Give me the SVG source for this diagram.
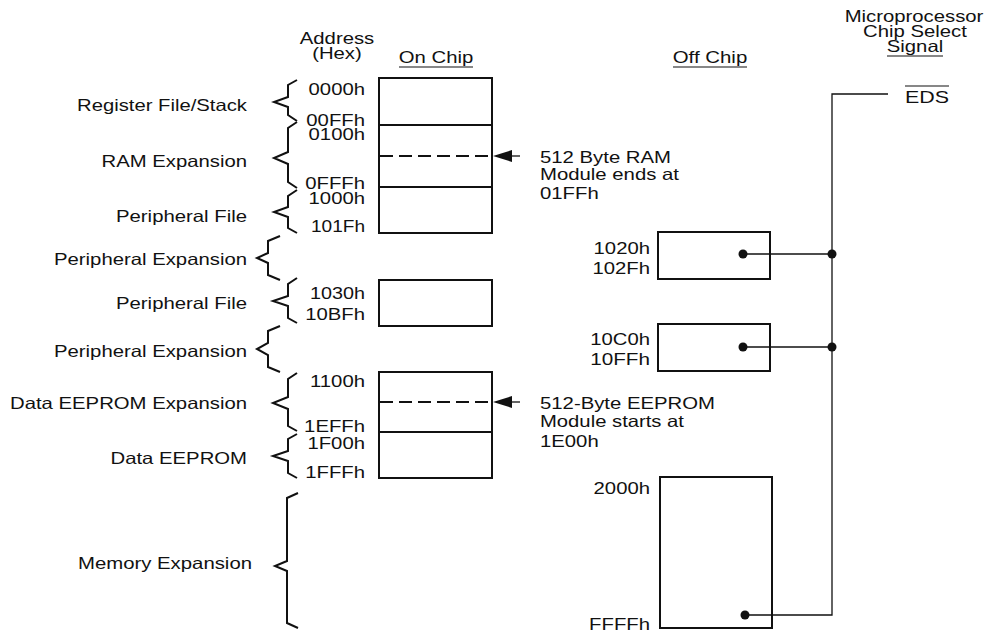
<svg xmlns="http://www.w3.org/2000/svg" width="998" height="632" viewBox="0 0 998 632">
<style>
text{font-family:"Liberation Sans",Arial,Helvetica,sans-serif;font-size:16.5px;fill:#111}
.e{text-anchor:end}.m{text-anchor:middle}
.box{fill:none;stroke:#111;stroke-width:2}
.div{stroke:#111;stroke-width:2}
.dash{stroke:#111;stroke-width:2;stroke-dasharray:13 6}
.br{fill:none;stroke:#111;stroke-width:2;stroke-linejoin:miter}
.w{fill:none;stroke:#111;stroke-width:1.3}
.u{stroke:#111;stroke-width:1.2}
.dot{fill:#111}
</style>
<defs>
<marker id="ah" markerWidth="20" markerHeight="14" refX="0" refY="7" orient="auto" markerUnits="userSpaceOnUse">
<polygon points="0,7 19,1 19,13" fill="#111"/>
</marker>
</defs>
<rect width="998" height="632" fill="#fff"/>

<g id="headers">
<text class="m" x="337" y="44" textLength="74.5" lengthAdjust="spacingAndGlyphs">Address</text>
<text class="m" x="337" y="59" textLength="49.6" lengthAdjust="spacingAndGlyphs">(Hex)</text>
<text class="m" x="436" y="63" textLength="74.5" lengthAdjust="spacingAndGlyphs">On Chip</text>
<line class="u" x1="399" y1="67" x2="473" y2="67"/>
<text class="m" x="710" y="63" textLength="74.5" lengthAdjust="spacingAndGlyphs">Off Chip</text>
<line class="u" x1="673" y1="67" x2="747" y2="67"/>
<text class="m" x="914" y="22" textLength="138.7" lengthAdjust="spacingAndGlyphs">Microprocessor</text>
<text class="m" x="915" y="37" textLength="103.8" lengthAdjust="spacingAndGlyphs">Chip Select</text>
<text class="m" x="915" y="52" textLength="56.4" lengthAdjust="spacingAndGlyphs">Signal</text>
<line class="u" x1="887" y1="56" x2="943" y2="56"/>
</g>

<g id="region-labels">
<text class="e" x="247" y="111" textLength="170" lengthAdjust="spacingAndGlyphs">Register File/Stack</text>
<text class="e" x="247" y="167" textLength="145.5" lengthAdjust="spacingAndGlyphs">RAM Expansion</text>
<text class="e" x="247" y="222" textLength="131" lengthAdjust="spacingAndGlyphs">Peripheral File</text>
<text class="e" x="247" y="265" textLength="193" lengthAdjust="spacingAndGlyphs">Peripheral Expansion</text>
<text class="e" x="247" y="309" textLength="131" lengthAdjust="spacingAndGlyphs">Peripheral File</text>
<text class="e" x="247" y="357" textLength="193" lengthAdjust="spacingAndGlyphs">Peripheral Expansion</text>
<text class="e" x="247" y="409" textLength="237" lengthAdjust="spacingAndGlyphs">Data EEPROM Expansion</text>
<text class="e" x="247" y="464" textLength="136.5" lengthAdjust="spacingAndGlyphs">Data EEPROM</text>
<text class="e" x="252" y="569" textLength="174" lengthAdjust="spacingAndGlyphs">Memory Expansion</text>
</g>

<g id="braces">
<path class="br" d="M297,80 L288,85 L288,97 L274,102 L288,107 L288,115 L297,121"/>
<path class="br" d="M297,122 L288,128 L288,152 L274,158 L288,164 L288,182 L297,188"/>
<path class="br" d="M297,190 L288,196 L288,207 L274,212 L288,217 L288,228 L297,233"/>
<path class="br" d="M280,236 L268,241 L268,253 L257,258 L268,263 L268,275 L280,280"/>
<path class="br" d="M297,278 L288,284 L288,296 L273,301 L288,306 L288,318 L297,323"/>
<path class="br" d="M280,326 L268,331 L268,343 L257,349 L268,355 L268,367 L280,372"/>
<path class="br" d="M297,373 L288,379 L288,397 L273,403 L288,409 L288,426 L297,431"/>
<path class="br" d="M297,434 L288,439 L288,451 L273,456 L288,461 L288,473 L297,478"/>
<path class="br" d="M298,493 L287,498 L287,561 L275,566 L287,571 L287,623 L298,628"/>
</g>

<g id="address-labels">
<text class="e" x="365" y="95" textLength="56.4" lengthAdjust="spacingAndGlyphs">0000h</text>
<text class="e" x="365" y="126" textLength="58.7" lengthAdjust="spacingAndGlyphs">00FFh</text>
<text class="e" x="365" y="140" textLength="56.4" lengthAdjust="spacingAndGlyphs">0100h</text>
<text class="e" x="365" y="189" textLength="59.8" lengthAdjust="spacingAndGlyphs">0FFFh</text>
<text class="e" x="365" y="204" textLength="56.4" lengthAdjust="spacingAndGlyphs">1000h</text>
<text class="e" x="365" y="232" textLength="54" lengthAdjust="spacingAndGlyphs">101Fh</text>
<text class="e" x="365" y="299" textLength="55" lengthAdjust="spacingAndGlyphs">1030h</text>
<text class="e" x="365" y="320" textLength="59.8" lengthAdjust="spacingAndGlyphs">10BFh</text>
<text class="e" x="365" y="387" textLength="55" lengthAdjust="spacingAndGlyphs">1100h</text>
<text class="e" x="365" y="432" textLength="60.9" lengthAdjust="spacingAndGlyphs">1EFFh</text>
<text class="e" x="365" y="449" textLength="57.6" lengthAdjust="spacingAndGlyphs">1F00h</text>
<text class="e" x="365" y="478" textLength="59.8" lengthAdjust="spacingAndGlyphs">1FFFh</text>
</g>

<g id="on-chip-1">
<rect class="box" x="379" y="78" width="113" height="155"/>
<line class="div" x1="379" y1="125" x2="492" y2="125"/>
<line class="div" x1="379" y1="187" x2="492" y2="187"/>
<line class="dash" x1="380" y1="156" x2="492" y2="156"/>
</g>
<g id="on-chip-2">
<rect class="box" x="379" y="280" width="113" height="46"/>
</g>
<g id="on-chip-3">
<rect class="box" x="379" y="372" width="113" height="106"/>
<line class="div" x1="379" y1="432" x2="492" y2="432"/>
<line class="dash" x1="380" y1="402" x2="492" y2="402"/>
</g>

<g id="notes">
<text x="540" y="163" textLength="131" lengthAdjust="spacingAndGlyphs">512 Byte RAM</text>
<text x="540" y="180" textLength="139" lengthAdjust="spacingAndGlyphs">Module ends at</text>
<text x="540" y="199" textLength="58.7" lengthAdjust="spacingAndGlyphs">01FFh</text>
<text x="540" y="409" textLength="175" lengthAdjust="spacingAndGlyphs">512-Byte EEPROM</text>
<text x="540" y="427" textLength="144" lengthAdjust="spacingAndGlyphs">Module starts at</text>
<text x="540" y="447" textLength="58.7" lengthAdjust="spacingAndGlyphs">1E00h</text>
</g>

<g id="off-chip-1">
<rect class="box" x="658" y="232" width="112" height="47"/>
<text class="e" x="650" y="254" textLength="56.4" lengthAdjust="spacingAndGlyphs">1020h</text>
<text class="e" x="650" y="274" textLength="57.6" lengthAdjust="spacingAndGlyphs">102Fh</text>
</g>
<g id="off-chip-2">
<rect class="box" x="658" y="324" width="112" height="47"/>
<text class="e" x="650" y="345" textLength="59.8" lengthAdjust="spacingAndGlyphs">10C0h</text>
<text class="e" x="650" y="365" textLength="59.8" lengthAdjust="spacingAndGlyphs">10FFh</text>
</g>
<g id="off-chip-3">
<rect class="box" x="660" y="477" width="112" height="151"/>
<text class="e" x="650" y="494" textLength="56.4" lengthAdjust="spacingAndGlyphs">2000h</text>
<text class="e" x="650" y="630" textLength="60.9" lengthAdjust="spacingAndGlyphs">FFFFh</text>
</g>

<g id="eds-signal">
<text class="m" x="927" y="103" textLength="44" lengthAdjust="spacingAndGlyphs">EDS</text>
<line class="u" x1="905" y1="86" x2="949" y2="86"/>
</g>

<g id="connectors">
<line class="w" x1="520" y1="156" x2="512" y2="156"/>
<polygon points="493,156 512,150 512,162" fill="#111"/>
<line class="w" x1="520" y1="402" x2="512" y2="402"/>
<polygon points="493,402 512,396 512,408" fill="#111"/>
<polyline class="w" points="888,94 832,94 832,615 745,615"/>
<line class="w" x1="743" y1="254" x2="832" y2="254"/>
<line class="w" x1="743" y1="347" x2="832" y2="347"/>
<circle class="dot" cx="743" cy="254" r="4.5"/>
<circle class="dot" cx="832" cy="254" r="4.5"/>
<circle class="dot" cx="743" cy="347" r="4.5"/>
<circle class="dot" cx="832" cy="347" r="4.5"/>
<circle class="dot" cx="745" cy="615" r="4.5"/>
</g>
</svg>
